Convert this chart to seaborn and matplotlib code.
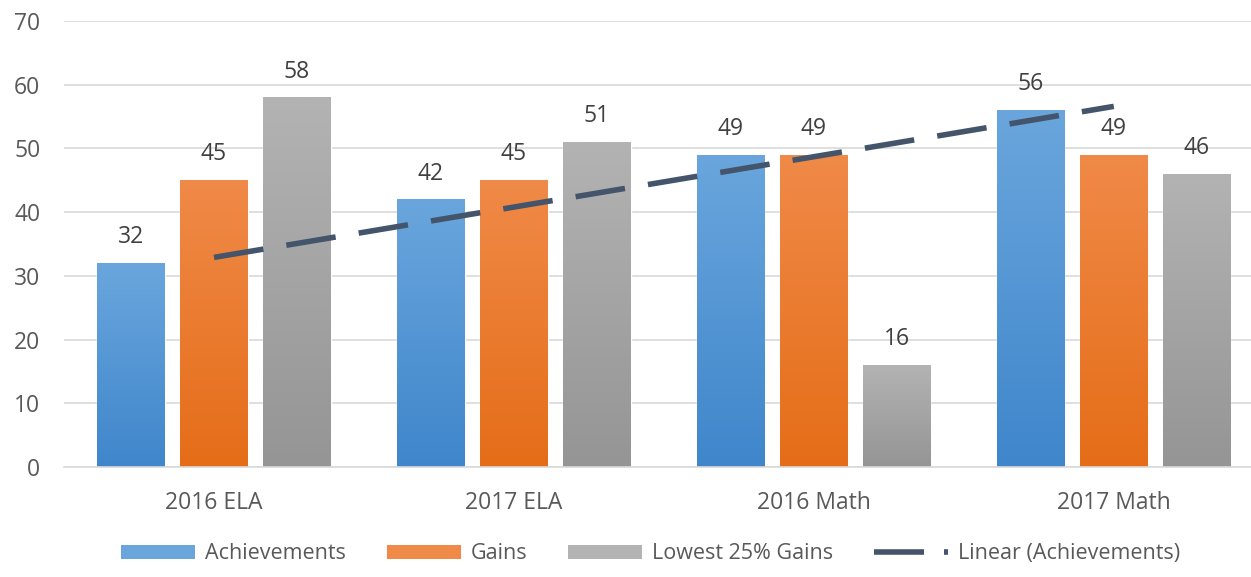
import numpy as np
import pandas as pd
import matplotlib
matplotlib.use("Agg")
import matplotlib.pyplot as plt
import matplotlib.colors as mcolors
from matplotlib.patches import Patch
from matplotlib.lines import Line2D
import seaborn as sns

categories = ["2016 ELA", "2017 ELA", "2016 Math", "2017 Math"]
series_names = ["Achievements", "Gains", "Lowest 25% Gains"]
achievements = [32, 42, 49, 56]
gains = [45, 45, 49, 49]
lowest25 = [58, 51, 16, 46]
trend_label = "Linear (Achievements)"
y_ticks = [0, 10, 20, 30, 40, 50, 60, 70]

colors = {"Achievements": ("#3F86CB", "#6AA6DD"),
          "Gains": ("#E56D18", "#F08A48"),
          "Lowest 25% Gains": ("#959595", "#B3B3B3")}

df = pd.DataFrame({
    "Category": categories * 3,
    "Series": [s for s in series_names for _ in categories],
    "Value": achievements + gains + lowest25,
})

sns.set_theme(style="white")
plt.rcParams['font.family'] = ['Open Sans', 'DejaVu Sans']

fig = plt.figure(figsize=(12.51, 5.77), dpi=100)
ax = fig.add_axes([0.0512, 0.1906, 0.959, 0.773])

palette = {s: colors[s][0] for s in series_names}
sns.barplot(data=df, x="Category", y="Value", hue="Series", order=categories,
            hue_order=series_names, palette=palette, width=0.83, gap=0.19,
            saturation=1, ax=ax, legend=False, zorder=2)

# gradient fill in each bar
for cont, s in zip(ax.containers, series_names):
    dark, light = colors[s]
    cmap = mcolors.LinearSegmentedColormap.from_list(s, [dark, light])
    for p in cont.patches:
        x0, y0 = p.get_x(), p.get_y()
        w, h = p.get_width(), p.get_height()
        grad = np.linspace(0, 1, 256).reshape(-1, 1)
        im = ax.imshow(grad, cmap=cmap, origin="lower", aspect="auto",
                       extent=[x0, x0 + w, y0, y0 + h], zorder=2.5)
        im.set_clip_path(p)
    ax.bar_label(cont, padding=10, fontsize=16.5, color="#404040")

# linear trend line on achievements
xs = np.arange(len(categories))
slope, intercept = np.polyfit(xs, achievements, 1)
dash = (0, (9, 4.2))
ax.plot(xs, slope * xs + intercept, color="#44546A", lw=4, ls=dash,
        zorder=4, dash_capstyle="butt")

ax.set_xlim(-0.5, 3.5)
ax.set_ylim(0, 70)
ax.set_yticks(y_ticks)
ax.grid(axis="y", color="#D9D9D9", lw=1.2, zorder=0)
ax.set_axisbelow(True)
for sp in ["top", "right", "left"]:
    ax.spines[sp].set_visible(False)
ax.spines["bottom"].set_color("#D9D9D9")
ax.spines["bottom"].set_linewidth(1.2)
ax.set_xlabel("")
ax.set_ylabel("")
ax.tick_params(axis="both", length=0, labelsize=16.5, labelcolor="#595959")
ax.tick_params(axis="y", pad=17)
ax.tick_params(axis="x", pad=17)

handles = [Patch(facecolor=colors[s][1], edgecolor="none") for s in series_names]
handles.append(Line2D([0], [0], color="#44546A", lw=4, ls=(0, (9, 3.6)),
                      dash_capstyle="butt"))
leg = fig.legend(handles, series_names + [trend_label], loc="center",
                 bbox_to_anchor=(0.52, 0.04), ncol=4, frameon=False,
                 fontsize=15.5, handlelength=3.45, handleheight=0.62,
                 columnspacing=1.9, handletextpad=0.45)
for t in leg.get_texts():
    t.set_color("#595959")

fig.savefig("out.png", dpi=100, facecolor="white")
